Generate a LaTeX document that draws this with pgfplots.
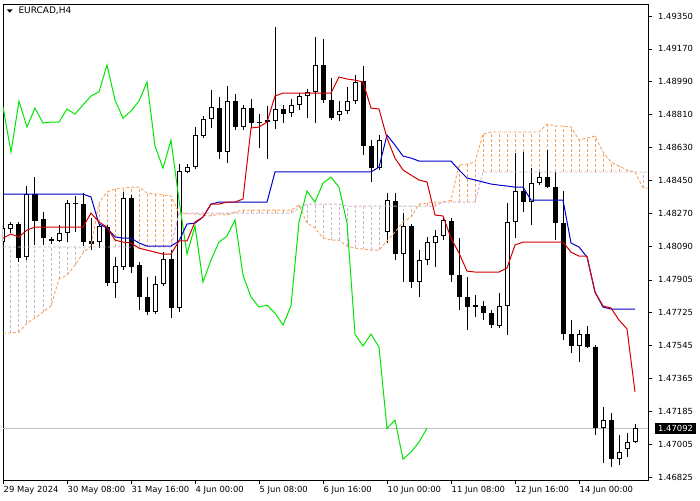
\documentclass[border=0pt]{standalone}
\usepackage{fontspec}
\setmainfont{DejaVu Sans}
\usepackage{pgfplots}
\usepackage{pgfplotstable}
\pgfplotsset{compat=1.18}
\definecolor{tenkan}{RGB}{210,0,0}
\definecolor{kijun}{RGB}{0,0,205}
\definecolor{chikou}{RGB}{0,230,0}
\definecolor{spanA}{RGB}{244,164,96}
\definecolor{spanB}{RGB}{216,191,216}
\definecolor{hatchA}{RGB}{246,160,90}
\definecolor{hatchB}{RGB}{205,180,205}
\definecolor{curline}{RGB}{192,192,192}

\pgfplotstableread{
i o h l c
0 1.48112 1.48205 1.48079 1.48189
1 1.48183 1.48222 1.48162 1.48211
2 1.48211 1.48222 1.48003 1.48025
3 1.48030 1.48419 1.48014 1.48375
4 1.48375 1.48468 1.48096 1.48227
5 1.48238 1.48277 1.48096 1.48134
6 1.48129 1.48140 1.48101 1.48118
7 1.48118 1.48205 1.48112 1.48162
8 1.48162 1.48342 1.48112 1.48326
9 1.48326 1.48364 1.48167 1.48320
10 1.48320 1.48381 1.48090 1.48112
11 1.48118 1.48244 1.48068 1.48101
12 1.48112 1.48211 1.48079 1.48200
13 1.48194 1.48205 1.47871 1.47888
14 1.47888 1.48030 1.47806 1.47981
15 1.47975 1.48386 1.47959 1.48353
16 1.48353 1.48370 1.47942 1.47975
17 1.47986 1.48003 1.47740 1.47811
18 1.47811 1.47921 1.47712 1.47729
19 1.47729 1.47926 1.47718 1.47882
20 1.47882 1.48057 1.47871 1.48019
21 1.48019 1.48068 1.47696 1.47751
22 1.47751 1.48539 1.47729 1.48501
23 1.48496 1.48539 1.48490 1.48523
24 1.48523 1.48742 1.48512 1.48698
25 1.48693 1.48802 1.48682 1.48786
26 1.48786 1.48945 1.48737 1.48852
27 1.48846 1.48906 1.48567 1.48605
28 1.48605 1.48967 1.48545 1.48884
29 1.48884 1.48923 1.48726 1.48742
30 1.48742 1.48863 1.48726 1.48846
31 1.48846 1.48895 1.48737 1.48764
32 1.48764 1.48813 1.48627 1.48769
33 1.48780 1.48857 1.48567 1.48769
34 1.48775 1.49290 1.48731 1.48841
35 1.48841 1.48863 1.48764 1.48813
36 1.48819 1.48895 1.48797 1.48863
37 1.48863 1.48928 1.48835 1.48912
38 1.48912 1.48950 1.48791 1.48934
39 1.48934 1.49235 1.48764 1.49082
40 1.49082 1.49224 1.48874 1.48890
41 1.48890 1.49010 1.48780 1.48791
42 1.48808 1.48884 1.48775 1.48830
43 1.48830 1.48961 1.48813 1.48884
44 1.48884 1.49027 1.48868 1.48989
45 1.48994 1.49076 1.48589 1.48638
46 1.48638 1.48671 1.48441 1.48517
47 1.48517 1.48698 1.48507 1.48671
48 1.48167 1.48381 1.48107 1.48342
49 1.48337 1.48381 1.48014 1.48046
50 1.48046 1.48271 1.47893 1.48200
51 1.48200 1.48211 1.47860 1.47893
52 1.47893 1.48068 1.47811 1.48014
53 1.48014 1.48140 1.47986 1.48112
54 1.48107 1.48178 1.47975 1.48145
55 1.48145 1.48244 1.48123 1.48233
56 1.48227 1.48244 1.47893 1.47931
57 1.47931 1.48134 1.47740 1.47811
58 1.47811 1.47921 1.47630 1.47756
59 1.47756 1.47822 1.47701 1.47767
60 1.47762 1.47789 1.47685 1.47723
61 1.47723 1.47740 1.47641 1.47658
62 1.47652 1.47833 1.47641 1.47762
63 1.47762 1.48326 1.47603 1.48222
64 1.48222 1.48600 1.48134 1.48392
65 1.48392 1.48605 1.48277 1.48331
66 1.48331 1.48517 1.48205 1.48435
67 1.48435 1.48496 1.48424 1.48468
68 1.48468 1.48616 1.48408 1.48413
69 1.48413 1.48496 1.48123 1.48216
70 1.48216 1.48392 1.47575 1.47608
71 1.47608 1.47685 1.47504 1.47543
72 1.47543 1.47630 1.47455 1.47608
73 1.47608 1.47652 1.47532 1.47537
74 1.47537 1.47548 1.47055 1.47092
75 1.47092 1.47208 1.46902 1.47137
76 1.47137 1.47176 1.46880 1.46923
77 1.46923 1.47055 1.46891 1.46962
78 1.46978 1.47066 1.46935 1.47017
79 1.47017 1.47116 1.47011 1.47092
}\candles

\pgfplotstableread{
i t k
0 1.48134 1.48375
1 1.48156 1.48375
2 1.48140 1.48375
3 1.48178 1.48375
4 1.48194 1.48375
5 1.48194 1.48375
6 1.48194 1.48375
7 1.48194 1.48375
8 1.48194 1.48375
9 1.48194 1.48375
10 1.48194 1.48375
11 1.48271 1.48359
12 1.48222 1.48211
13 1.48194 1.48189
14 1.48123 1.48140
15 1.48112 1.48134
16 1.48107 1.48134
17 1.48079 1.48107
18 1.48068 1.48090
19 1.48057 1.48090
20 1.48046 1.48090
21 1.48046 1.48090
22 1.48118 1.48118
23 1.48118 1.48211
24 1.48222 1.48216
25 1.48249 1.48249
26 1.48320 1.48320
27 1.48320 1.48331
28 1.48331 1.48331
29 1.48331 1.48331
30 1.48348 1.48331
31 1.48737 1.48331
32 1.48742 1.48331
33 1.48769 1.48331
34 1.48912 1.48496
35 1.48928 1.48496
36 1.48928 1.48496
37 1.48928 1.48496
38 1.48928 1.48496
39 1.48928 1.48496
40 1.48928 1.48496
41 1.48928 1.48496
42 1.49016 1.48496
43 1.49005 1.48496
44 1.48999 1.48496
45 1.48989 1.48496
46 1.48846 1.48496
47 1.48841 1.48523
48 1.48682 1.48698
49 1.48572 1.48643
50 1.48507 1.48583
51 1.48479 1.48572
52 1.48452 1.48556
53 1.48441 1.48556
54 1.48260 1.48556
55 1.48255 1.48556
56 1.48134 1.48556
57 1.48052 1.48507
58 1.47953 1.48463
59 1.47948 1.48452
60 1.47948 1.48441
61 1.47948 1.48430
62 1.47948 1.48424
63 1.47970 1.48419
64 1.48096 1.48413
65 1.48112 1.48413
66 1.48112 1.48342
67 1.48112 1.48342
68 1.48112 1.48342
69 1.48112 1.48342
70 1.48112 1.48342
71 1.48057 1.48107
72 1.48035 1.48085
73 1.48035 1.48030
74 1.47838 1.47838
75 1.47762 1.47756
76 1.47751 1.47745
77 1.47685 1.47745
78 1.47636 1.47745
79 1.47291 1.47745
}\lines

\pgfplotstableread{
j a b
0 1.47614 1.48085
1 1.47614 1.48085
2 1.47619 1.48085
3 1.47669 1.48085
4 1.47696 1.48085
5 1.47729 1.48085
6 1.47762 1.48085
7 1.47910 1.48085
8 1.47931 1.48085
9 1.47986 1.48085
10 1.48052 1.48085
11 1.48090 1.48085
12 1.48326 1.48085
13 1.48386 1.48085
14 1.48402 1.48085
15 1.48408 1.48085
16 1.48413 1.48085
17 1.48413 1.48085
18 1.48381 1.48085
19 1.48375 1.48085
20 1.48370 1.48085
21 1.48364 1.48085
22 1.48271 1.48271
23 1.48266 1.48271
24 1.48266 1.48271
25 1.48260 1.48271
26 1.48255 1.48271
27 1.48266 1.48271
28 1.48260 1.48271
29 1.48277 1.48271
30 1.48287 1.48271
31 1.48287 1.48271
32 1.48287 1.48271
33 1.48287 1.48271
34 1.48287 1.48271
35 1.48287 1.48271
36 1.48287 1.48271
37 1.48315 1.48298
38 1.48216 1.48320
39 1.48189 1.48320
40 1.48134 1.48320
41 1.48123 1.48320
42 1.48123 1.48320
43 1.48090 1.48309
44 1.48079 1.48309
45 1.48074 1.48309
46 1.48068 1.48309
47 1.48068 1.48309
48 1.48118 1.48309
49 1.48167 1.48309
50 1.48222 1.48309
51 1.48249 1.48309
52 1.48320 1.48309
53 1.48326 1.48309
54 1.48331 1.48309
55 1.48331 1.48331
56 1.48342 1.48331
57 1.48534 1.48331
58 1.48539 1.48331
59 1.48550 1.48331
60 1.48704 1.48496
61 1.48715 1.48496
62 1.48715 1.48496
63 1.48715 1.48496
64 1.48715 1.48496
65 1.48715 1.48496
66 1.48715 1.48496
67 1.48715 1.48496
68 1.48759 1.48496
69 1.48748 1.48496
70 1.48748 1.48496
71 1.48742 1.48496
72 1.48671 1.48496
73 1.48682 1.48496
74 1.48693 1.48496
75 1.48605 1.48496
76 1.48550 1.48496
77 1.48528 1.48496
78 1.48507 1.48496
79 1.48496 1.48496
80 1.48408 1.48496
81 1.48408 1.48496
}\kumo

\begin{document}
\begin{tikzpicture}[x=1pt,y=1pt]
\useasboundingbox (0,0) rectangle (700,500);
\fill[white] (0,0) rectangle (700,500);
\begin{axis}[
  at={(3pt,20pt)}, anchor=south west,
  scale only axis, width=645pt, height=476pt,
  xmin=0, xmax=80.625, ymin=1.46809, ymax=1.49416,
  axis line style={line width=0.8pt, black},
  ytick={1.49350,1.49170,1.48990,1.48810,1.48630,1.48450,1.48270,1.48090,1.47905,1.47725,1.47545,1.47365,1.47185,1.47005,1.46825},
  yticklabels={1.49350,1.49170,1.48990,1.48810,1.48630,1.48450,1.48270,1.48090,1.47905,1.47725,1.47545,1.47365,1.47185,1.47005,1.46825},
  ytick pos=right, yticklabel pos=right,
  xtick={0,8,16,24,32,40,48,56,64,72},
  xticklabels={29 May 2024,30 May 08:00,31 May 16:00,4 Jun 00:00,5 Jun 08:00,6 Jun 16:00,10 Jun 00:00,11 Jun 08:00,12 Jun 16:00,14 Jun 00:00},
  xtick pos=bottom,
  tick align=outside, major tick length=4pt,
  tick style={black, line width=0.7pt},
  ticklabel style={font=\fontsize{8.4}{10}\selectfont, inner sep=0pt},
  yticklabel style={anchor=west, xshift=6pt},
  xticklabel style={anchor=north west, xshift=0.5pt, yshift=-2pt},
  clip=true,
  errbar/.style={draw=none, mark=none, error bars/.cd, y dir=plus, y explicit, error mark=none},
]
% current price line
\addplot[curline, line width=0.8pt] coordinates {(0,1.47092) (80.625,1.47092)};
% kumo hatch (vertical segments between span B and span A)
\addplot[mark=none, restrict expr to domain={\thisrow{a}-\thisrow{b}}{0.00003:1},
  quiver={u=0, v=\thisrow{a}-\thisrow{b},
    every arrow/.append style={-, draw=hatchA, line width=1pt, dash pattern=on 3pt off 2pt}}]
  table[x=j, y=b] {\kumo};
\addplot[mark=none, restrict expr to domain={\thisrow{b}-\thisrow{a}}{0.00003:1},
  quiver={u=0, v=\thisrow{b}-\thisrow{a},
    every arrow/.append style={-, draw=hatchB, line width=1pt, dash pattern=on 3pt off 2pt}}]
  table[x=j, y=a] {\kumo};
% wicks
\addplot[errbar, error bar style={line width=1pt, draw=black, solid}]
  table[x=i, y=l, y error expr=\thisrow{h}-\thisrow{l}] {\candles};
% bodies (outline / black fill)
\addplot[errbar, error bar style={line width=5pt, draw=black, solid}]
  table[x=i, y expr={min(\thisrow{o},\thisrow{c})}, y error expr={max(abs(\thisrow{c}-\thisrow{o}),0.00006)}] {\candles};
% white bodies inner
\addplot[restrict expr to domain={\thisrow{c}-\thisrow{o}}{0.00012:1},
  errbar, error bar style={line width=3pt, draw=white, solid}]
  table[x=i, y expr={\thisrow{o}+0.0000548}, y error expr={\thisrow{c}-\thisrow{o}-0.0001095}] {\candles};
% span lines
\addplot[spanA, line width=0.9pt, dash pattern=on 3pt off 2pt] table[x=j, y=a] {\kumo};
\addplot[hatchB, line width=0.9pt, dash pattern=on 3pt off 2pt] table[x=j, y=b] {\kumo};
% chikou
\addplot[chikou, line width=1pt, restrict x to domain=0:80] table[x expr=\thisrow{i}-26, y=c] {\candles};
% kijun, tenkan
\addplot[kijun, line width=1pt] table[x=i, y=k] {\lines};
\addplot[tenkan, line width=1pt] table[x=i, y=t] {\lines};
\coordinate (cp) at (axis cs:80.625,1.47092);
\end{axis}
\node[fill=black, text=white, anchor=west, xshift=7pt, inner xsep=3pt, inner ysep=2.5pt,
  font=\fontsize{8.4}{10}\selectfont] at (cp) {1.47092};
\fill[black] (6.7,490.7) -- (12.7,490.7) -- (9.7,487.3) -- cycle;
\node[anchor=base west, inner sep=0pt, font=\fontsize{9}{11}\selectfont] at (18.3,486) {EURCAD,H4};
\end{tikzpicture}
\end{document}
